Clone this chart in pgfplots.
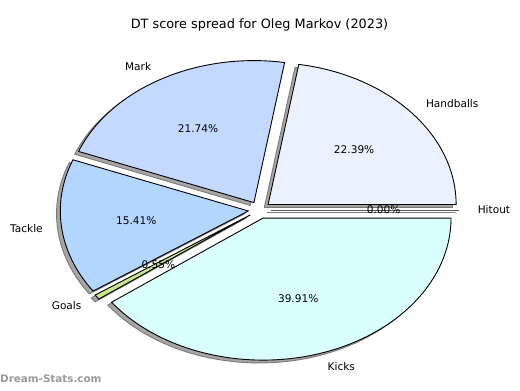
\documentclass[border=0pt]{standalone}
\usepackage{pgfplots}
\usepackage{pgfplotstable}
\pgfplotsset{compat=1.18}
\usepackage{fontspec}
\setmainfont{DejaVu Sans}
\definecolor{c0}{HTML}{EBF2FF}
\definecolor{c1}{HTML}{C4D9FF}
\definecolor{c2}{HTML}{B3D6FF}
\definecolor{c3}{HTML}{C8E68C}
\definecolor{c4}{HTML}{D9FFFF}
\definecolor{c5}{HTML}{F0F0F0}
\definecolor{shadowfill}{HTML}{A6A6A6}
\definecolor{shadowedge}{HTML}{7A7A7A}
\definecolor{wm}{HTML}{999999}

\pgfplotstableread[col sep=comma]{
name,value
Handballs,22.39
Mark,21.74
Tackle,15.41
Goals,0.55
Kicks,39.91
Hitout,0.00
}\piedata

\newcommand\pieExplode{0.06}
\newcommand\lblfont{\fontsize{10.6}{12.5}\selectfont}
\def\pieCum{0}
\pgfplotsforeachungrouped \i in {0,...,5}{%
  \pgfplotstablegetelem{\i}{value}\of\piedata
  \let\pieV\pgfplotsretval
  \expandafter\xdef\csname pv\i\endcsname{\pieV}%
  \pgfmathsetmacro\pieSA{3.6*\pieCum}%
  \pgfmathsetmacro\pieEA{3.6*(\pieCum+\pieV)}%
  \pgfmathsetmacro\pieMA{(\pieSA+\pieEA)/2}%
  \pgfmathsetmacro\pieCX{\pieExplode*cos(\pieMA)}%
  \pgfmathsetmacro\pieCY{\pieExplode*sin(\pieMA)}%
  \pgfmathsetmacro\piePX{\pieCX+cos(\pieSA)}%
  \pgfmathsetmacro\piePY{\pieCY+sin(\pieSA)}%
  \pgfmathsetmacro\pieTX{\pieCX+0.6*cos(\pieMA)}%
  \pgfmathsetmacro\pieTY{\pieCY+0.6*sin(\pieMA)}%
  \pgfmathsetmacro\pieLX{\pieCX+1.1*cos(\pieMA)}%
  \pgfmathsetmacro\pieLY{\pieCY+1.1*sin(\pieMA)}%
  \pgfmathsetmacro\pieSCX{\pieCX-0.02}%
  \pgfmathsetmacro\pieSCY{\pieCY-0.02}%
  \pgfmathsetmacro\pieSPX{\piePX-0.02}%
  \pgfmathsetmacro\pieSPY{\piePY-0.02}%
  \expandafter\xdef\csname sa\i\endcsname{\pieSA}%
  \expandafter\xdef\csname ea\i\endcsname{\pieEA}%
  \expandafter\xdef\csname cx\i\endcsname{\pieCX}%
  \expandafter\xdef\csname cy\i\endcsname{\pieCY}%
  \expandafter\xdef\csname px\i\endcsname{\piePX}%
  \expandafter\xdef\csname py\i\endcsname{\piePY}%
  \expandafter\xdef\csname scx\i\endcsname{\pieSCX}%
  \expandafter\xdef\csname scy\i\endcsname{\pieSCY}%
  \expandafter\xdef\csname spx\i\endcsname{\pieSPX}%
  \expandafter\xdef\csname spy\i\endcsname{\pieSPY}%
  \expandafter\xdef\csname tx\i\endcsname{\pieTX}%
  \expandafter\xdef\csname ty\i\endcsname{\pieTY}%
  \expandafter\xdef\csname lx\i\endcsname{\pieLX}%
  \expandafter\xdef\csname ly\i\endcsname{\pieLY}%
  \ifdim\pieLX pt>0pt
    \expandafter\xdef\csname anc\i\endcsname{west}%
  \else
    \expandafter\xdef\csname anc\i\endcsname{east}%
  \fi
  \pgfmathsetmacro\pieNewCum{\pieCum+\pieV}%
  \xdef\pieCum{\pieNewCum}%
  \pgfplotstablegetelem{\i}{name}\of\piedata
  \expandafter\xdef\csname nm\i\endcsname{\pgfplotsretval}%
}

\begin{document}
\begin{tikzpicture}
\begin{axis}[
  x=188bp, y=142bp,
  xmin=-1.3803, xmax=1.3856,
  ymin=-1.2676, ymax=1.4789,
  hide axis, clip=false,
]
\path (rel axis cs:0,0) rectangle (rel axis cs:1,1);
% shadows
\pgfplotsinvokeforeach{0,...,5}{
  \filldraw[fill=shadowfill, draw=shadowedge, line width=0.9bp]
    (axis cs:\csname scx#1\endcsname,\csname scy#1\endcsname)
    -- (axis cs:\csname spx#1\endcsname,\csname spy#1\endcsname)
    arc[start angle=\csname sa#1\endcsname, end angle=\csname ea#1\endcsname, x radius=188bp, y radius=142bp]
    -- cycle;
}
% wedges
\pgfplotsinvokeforeach{0,...,5}{
  \filldraw[fill=c#1, draw=black, line width=0.9bp, line join=miter]
    (axis cs:\csname cx#1\endcsname,\csname cy#1\endcsname)
    -- (axis cs:\csname px#1\endcsname,\csname py#1\endcsname)
    arc[start angle=\csname sa#1\endcsname, end angle=\csname ea#1\endcsname, x radius=188bp, y radius=142bp]
    -- cycle;
}
% labels
\pgfplotsinvokeforeach{0,...,5}{
  \node[anchor=\csname anc#1\endcsname, inner sep=0pt, font=\lblfont]
    at (axis cs:\csname lx#1\endcsname,\csname ly#1\endcsname) {\csname nm#1\endcsname};
  \node[inner sep=0pt, font=\lblfont]
    at (axis cs:\csname tx#1\endcsname,\csname ty#1\endcsname) {\csname pv#1\endcsname\%};
}
\node[inner sep=0pt, font=\fontsize{12.9}{15}\selectfont] at (axis cs:0,1.3028) {DT score spread for Oleg Markov (2023)};
\node[anchor=west, inner sep=0pt, text=wm, font=\bfseries\fontsize{10.4}{12}\selectfont] at (axis cs:-1.3803,-1.190) {Dream-Stats.com};
\end{axis}
\end{tikzpicture}
\end{document}
